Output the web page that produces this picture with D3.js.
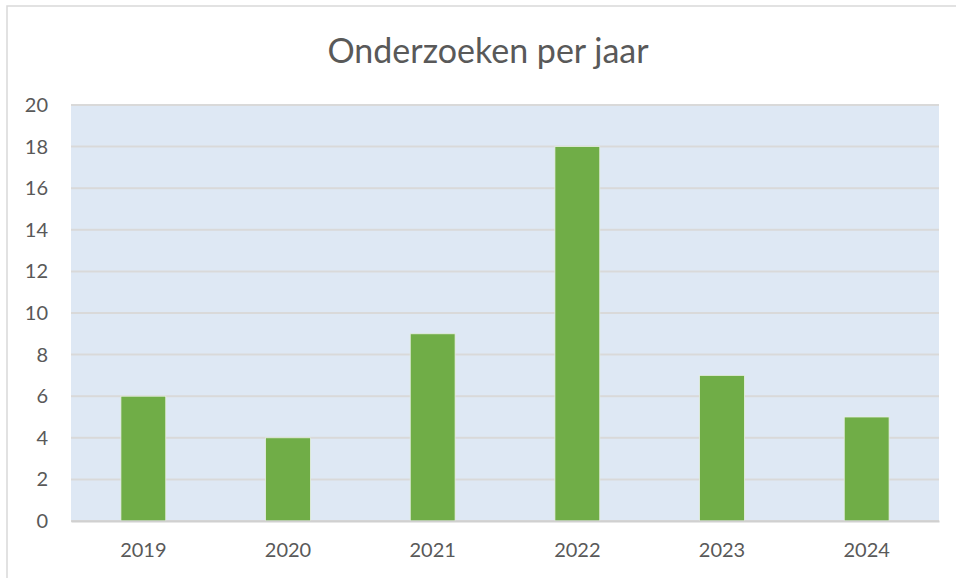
<!DOCTYPE html>
<html>
<head>
<meta charset="utf-8">
<script src="https://d3js.org/d3.v7.min.js"></script>
<style>
  body { margin: 0; background: #fff; }
  text { font-family: Lato, "Open Sans", sans-serif; fill: #595959; }
</style>
</head>
<body>
<svg width="956" height="578"></svg>
<script>
const years = ["2019", "2020", "2021", "2022", "2023", "2024"];
const counts = [6, 4, 9, 18, 7, 5];
const yTicks = [0, 2, 4, 6, 8, 10, 12, 14, 16, 18, 20];

const svg = d3.select("svg");
const margin = { top: 105, right: 17, bottom: 57, left: 71 };
const W = 956, H = 578;
const iw = W - margin.left - margin.right, ih = H - margin.top - margin.bottom;

// chart frame (cut off on right and bottom)
svg.append("rect")
  .attr("x", 7).attr("y", 6).attr("width", 1000).attr("height", 1000)
  .attr("fill", "none").attr("stroke", "#d9d9d9").attr("stroke-width", 1.5);

svg.append("text")
  .attr("x", 488).attr("y", 63)
  .attr("text-anchor", "middle")
  .style("font-size", "34px")
  .text("Onderzoeken per jaar");

const g = svg.append("g").attr("transform", `translate(${margin.left},${margin.top})`);

const x = d3.scaleBand().domain(years).range([0, iw]).paddingInner(0.69).paddingOuter(0.345);
const y = d3.scaleLinear().domain([0, 20]).range([ih, 0]);

g.append("rect").attr("width", iw).attr("height", ih).attr("fill", "#dee8f4");

// gridlines
g.append("g").selectAll("line").data(yTicks).join("line")
  .attr("x1", 0).attr("x2", iw)
  .attr("y1", d => y(d)).attr("y2", d => y(d))
  .attr("stroke", "#d9d9d9").attr("stroke-width", 2);

g.append("g").selectAll("rect").data(counts).join("rect")
  .attr("x", (d, i) => x(years[i]))
  .attr("y", d => y(d))
  .attr("width", x.bandwidth())
  .attr("height", d => y(0) - y(d))
  .attr("fill", "#70ad47")
  .attr("stroke", "#e6efe0").attr("stroke-width", 0.8);

// y axis labels
const yAxis = g.append("g").call(d3.axisLeft(y).tickValues(yTicks).tickSize(0).tickPadding(23));
yAxis.select(".domain").remove();
yAxis.selectAll("text").style("font-size", "20px").attr("fill", "#595959")
  .attr("font-family", "Lato, 'Open Sans', sans-serif");

// x axis labels
const xAxis = g.append("g").attr("transform", `translate(0,${ih})`)
  .call(d3.axisBottom(x).tickSize(0).tickPadding(22));
xAxis.select(".domain").attr("stroke", "#d0d0d0").attr("stroke-width", 2);
xAxis.selectAll("text").style("font-size", "20px").attr("fill", "#595959")
  .attr("font-family", "Lato, 'Open Sans', sans-serif");
</script>
</body>
</html>
